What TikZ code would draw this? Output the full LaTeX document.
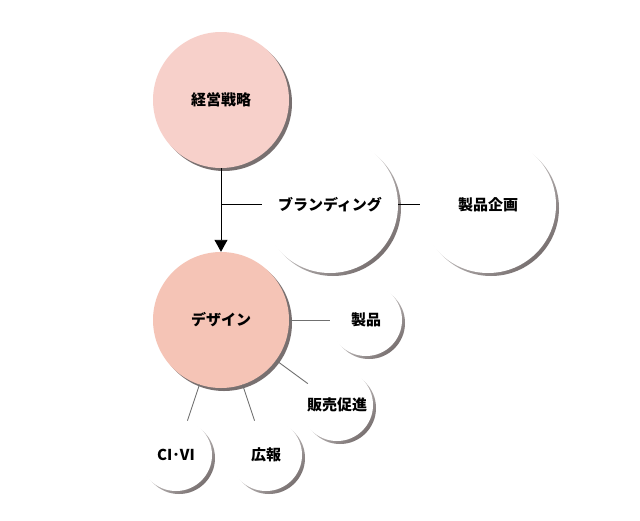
\documentclass[tikz,border=0pt]{standalone}
\usepackage{fontspec}
\setmainfont{Noto Sans CJK JP}
\usetikzlibrary{arrows.meta}
\definecolor{pinkA}{HTML}{F7D0CA}
\definecolor{pinkB}{HTML}{F5C4B6}
\definecolor{shadowc}{HTML}{787070}
\definecolor{linec}{HTML}{707070}
\begin{document}
\begin{tikzpicture}[x=1pt,y=-1pt,
  lbl/.style={font=\fontsize{15}{15}\selectfont\bfseries, text=black},
  bigc/.style={circle, minimum size=136pt, inner sep=0pt, lbl},
  smallc/.style={circle, minimum size=72pt, inner sep=0pt, lbl},
  darkline/.style={black, line width=0.9pt},
  grayline/.style={linec, line width=0.9pt},
  softshadow/.style={top color=white, bottom color=shadowc, shading angle=45}
]
\useasboundingbox[fill=white] (0,0) rectangle (640,520);

% shadows
\fill[shadowc] (224,103) circle (68pt);
\fill[shadowc] (224,323) circle (68pt);
\shade[softshadow] (333,208) circle (68pt);
\shade[softshadow] (491,208) circle (68pt);
\shade[softshadow] (369,323) circle (36pt);
\shade[softshadow] (340,408) circle (36pt);
\shade[softshadow] (179,458) circle (36pt);
\shade[softshadow] (269,458) circle (36pt);

% circles
\node[bigc, fill=pinkA] (strat) at (221,100) {経営戦略};
\node[bigc, fill=pinkB] (design) at (221,320) {デザイン};
\node[bigc, fill=white] (brand) at (330,205) {ブランディング};
\node[bigc, fill=white] (plan) at (488,205) {製品企画};
\node[smallc, fill=white] (prod) at (366,320) {製品};
\node[smallc, fill=white] (sales) at (337,405) {販売促進};
\node[smallc, fill=white] (civi) at (176,455) {CI･VI};
\node[smallc, fill=white] (pr) at (266,455) {広報};

% connectors
\draw[darkline, -{Triangle[length=12pt,width=13pt]}] (strat.south) -- (design.north);
\coordinate (branch) at (221,204);
\draw[darkline] (branch) -- (brand.west |- branch);
\draw[darkline] (brand.east |- branch) -- (plan.west |- branch);
\draw[grayline] (design) -- (prod);
\draw[grayline] (design) -- (sales);
\draw[grayline] (design) -- (civi);
\draw[grayline] (design) -- (pr);
\end{tikzpicture}
\end{document}
